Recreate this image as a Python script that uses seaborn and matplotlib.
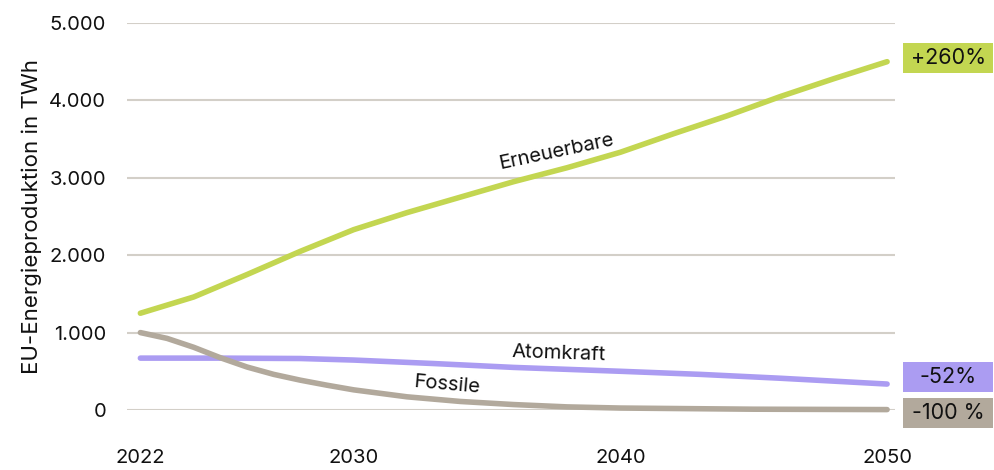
import pandas as pd
import matplotlib.pyplot as plt
import matplotlib.transforms as mtransforms
from matplotlib.patches import Rectangle
import seaborn as sns

# ------------------------------------------------------------------
# Data (TWh)
# ------------------------------------------------------------------
years_ee = [2022, 2024, 2026, 2028, 2030, 2032, 2034, 2036, 2038, 2040,
            2042, 2044, 2046, 2048, 2050]
erneuerbare = [1250, 1460, 1750, 2050, 2330, 2550, 2750, 2950, 3130, 3330,
               3570, 3800, 4050, 4280, 4500]

years_at = [2022, 2025, 2028, 2030, 2033, 2036, 2040, 2043, 2046, 2050]
atomkraft = [670, 670, 665, 645, 600, 550, 500, 460, 410, 335]

years_fo = [2022, 2023, 2024, 2025, 2026, 2027, 2028, 2029, 2030, 2032,
            2034, 2036, 2038, 2040, 2045, 2050]
fossile = [1000, 925, 810, 675, 555, 460, 385, 320, 260, 170,
           110, 70, 40, 25, 10, 5]

series_names = ["Erneuerbare", "Atomkraft", "Fossile"]
change_labels = ["+260%", "-52%", "-100 %"]
colors = ["#c3d651", "#ab9cf2", "#b2a99c"]

df = pd.concat([
    pd.DataFrame({"Jahr": years_ee, "TWh": erneuerbare, "Quelle": "Erneuerbare"}),
    pd.DataFrame({"Jahr": years_at, "TWh": atomkraft, "Quelle": "Atomkraft"}),
    pd.DataFrame({"Jahr": years_fo, "TWh": fossile, "Quelle": "Fossile"}),
])

# ------------------------------------------------------------------
# Plot
# ------------------------------------------------------------------
sns.set_style("white")
plt.rcParams["font.family"] = ["Inter", "DejaVu Sans"]
plt.rcParams["text.color"] = "#111111"
plt.rcParams["xtick.color"] = "#111111"
plt.rcParams["ytick.color"] = "#111111"
plt.rcParams["axes.labelcolor"] = "#111111"

fig = plt.figure(figsize=(9.94, 4.70), dpi=100)
ax = fig.add_axes([0.1278, 0.1277, 0.7727, 0.8234])

sns.lineplot(data=df, x="Jahr", y="TWh", hue="Quelle", hue_order=series_names,
             palette=colors, linewidth=4, legend=False, ax=ax, clip_on=False,
             solid_capstyle="round", solid_joinstyle="round")

ax.set_xlim(2021.5, 2050.3)
ax.set_ylim(0, 5000)
ax.set_yticks([0, 1000, 2000, 3000, 4000, 5000])
ax.set_yticklabels(["0", "1.000", "2.000", "3.000", "4.000", "5.000"])
ax.set_xticks([2022, 2030, 2040, 2050])
ax.grid(axis="y", color="#d3cfc8", linewidth=1.5)
ax.set_axisbelow(True)
for s in ax.spines.values():
    s.set_visible(False)
ax.tick_params(axis="y", length=0, pad=15, labelsize=14.5)
ax.tick_params(axis="x", length=0, pad=28, labelsize=14.5)
ax.set_xlabel("")
ax.set_ylabel("EU-Energieproduktion in TWh", fontsize=16, labelpad=5)

# inline series labels
ax.text(2037.6, 3330, "Erneuerbare", fontsize=14.5, rotation=12, ha="center", va="center")
ax.text(2037.7, 730, "Atomkraft", fontsize=14.5, rotation=-2, ha="center", va="center")
ax.text(2033.5, 320, "Fossile", fontsize=14.5, rotation=-5, ha="center", va="center")

# change boxes on the right
trans = mtransforms.blended_transform_factory(ax.transAxes, ax.transData)
box_y = [4550, 430, -40]
for lab, col, yc in zip(change_labels, colors, box_y):
    ax.add_patch(Rectangle((1.010, yc - 194), 0.118, 388, transform=trans,
                           facecolor=col, edgecolor="none", clip_on=False))
    ax.text(1.069, yc, lab, transform=trans, fontsize=15.5, ha="center",
            va="center")

fig.savefig("out.png", dpi=100)
